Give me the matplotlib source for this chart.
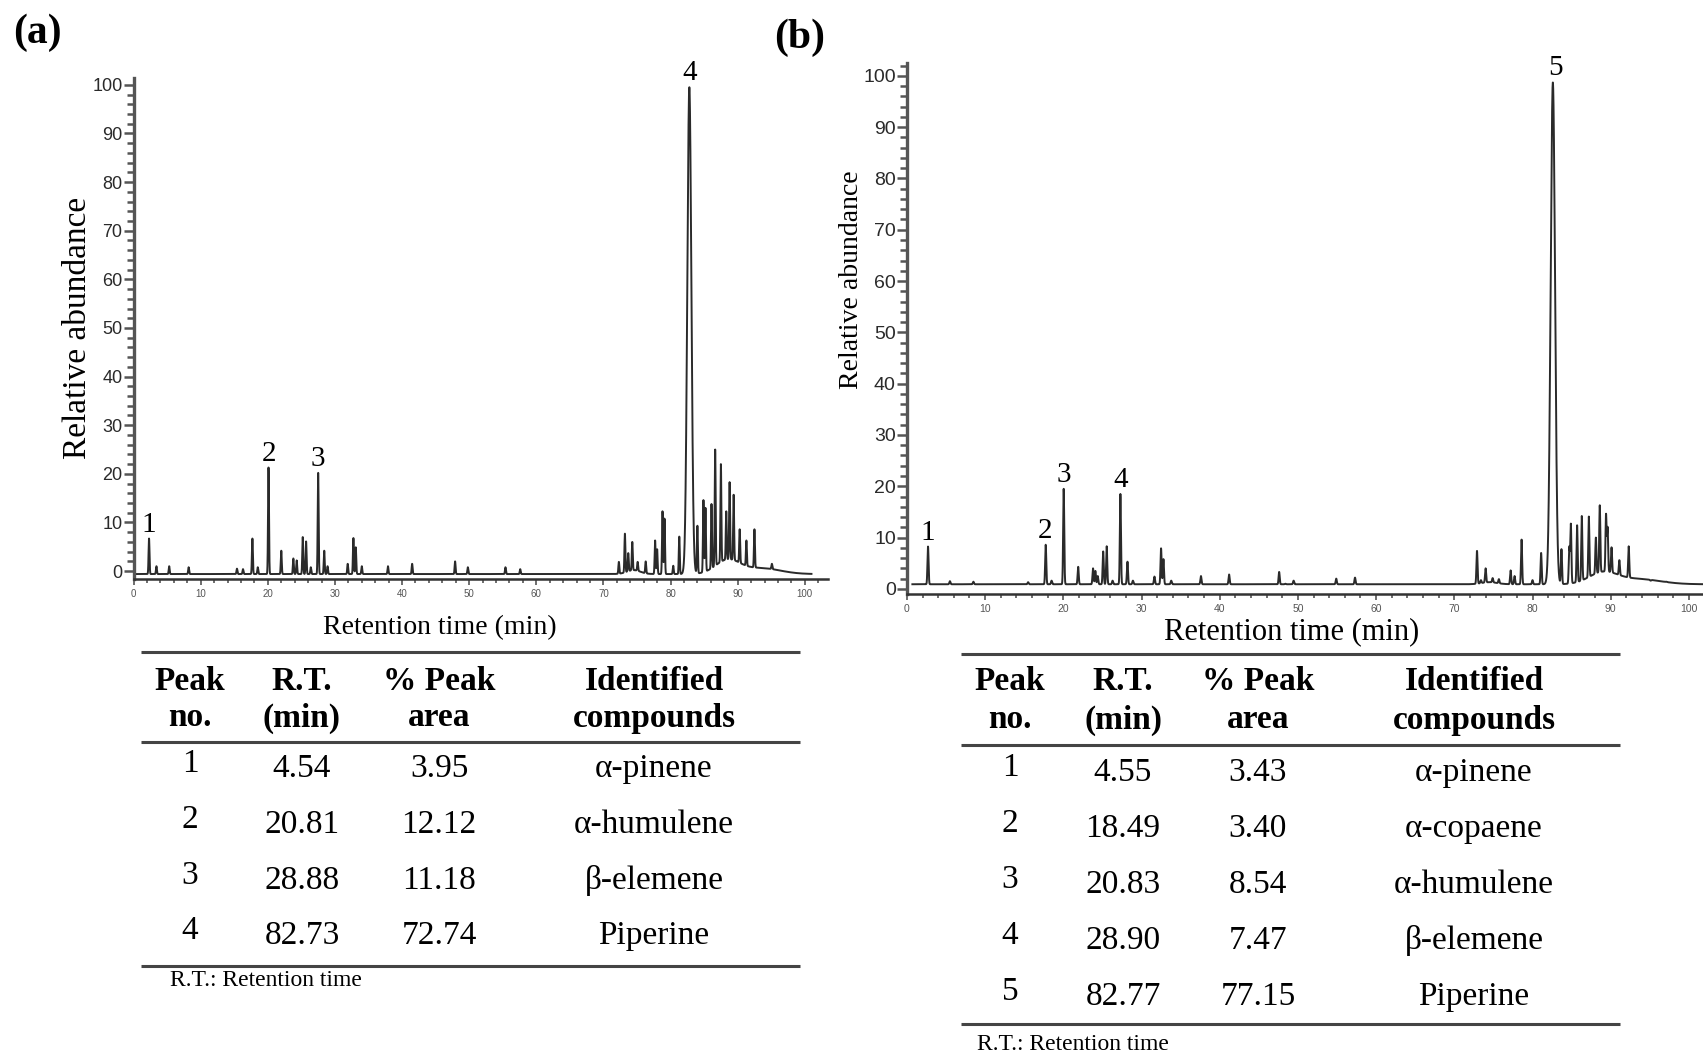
"""GC-MS chromatograms (a) and (b) with peak tables underneath."""

import numpy as np
import matplotlib

matplotlib.use("Agg")
import matplotlib.pyplot as plt  # noqa: E402
from matplotlib.ticker import MultipleLocator  # noqa: E402

W, H = 1703, 1056
SERIF = "Liberation Serif"
SANS = "Liberation Sans"
LINE_COLOR = "#2a2a2a"
AXIS_COLOR = "#555555"
TICK_COLOR = "#555555"

# ---- panel (a) peaks: retention time (min), relative abundance (%) ----
A_RT = [2.3, 3.4, 5.3, 8.2, 15.4, 16.3, 17.7, 18.5, 20.1, 22.0,
        23.8, 24.3, 25.2, 25.7, 26.4, 27.5, 28.4, 28.9, 31.9, 32.75,
        33.1, 34.0, 37.9, 41.5, 47.9, 49.8, 55.4, 57.6,
        72.3, 73.2, 73.7, 74.3, 75.1, 76.3, 77.7, 78.0, 78.8, 79.1,
        80.4, 81.3, 82.8, 84.0, 84.9, 85.2, 86.1, 86.65, 87.5, 88.3,
        88.8, 89.4, 90.3, 91.3, 92.5, 95.1]
A_HEIGHT = [6.7, 1.0, 1.0, 0.8, 0.5, 0.4, 6.7, 0.8, 21.3, 4.2,
            2.6, 2.2, 7.0, 6.1, 0.8, 20.2, 4.2, 1.0, 1.5, 6.8,
            4.9, 1.0, 1.0, 1.5, 2.0, 0.8, 0.8, 0.4,
            1.9, 7.7, 3.7, 6.0, 1.9, 2.0, 6.3, 4.5, 12.3, 10.8,
            1.1, 7.1, 99.5, 9.3, 14.6, 13.0, 13.8, 25.0, 22.0, 12.3,
            18.3, 15.7, 8.6, 6.3, 8.6, 1.5]
A_BASE = -0.6
A_RANGE = (0.3, 101.0)
A_HUMP_RT = [74.5, 88.5, 93.5]
A_HUMP_H = [0.8, 2.8, 1.2]
A_HUMP_W = [1.0, 1.8, 2.8]
A_LABELS = ["1", "2", "3", "4"]
A_LABEL_RT = [2.3, 20.1, 27.4, 82.8]
A_LABEL_Y = [6.7, 21.3, 20.2, 99.5]

# ---- panel (b) peaks ----
B_RT = [2.7, 5.5, 8.5, 15.5, 17.75, 18.5, 20.05, 21.9, 23.8, 24.1,
        24.4, 25.1, 25.55, 26.3, 27.3, 28.2, 28.9, 31.65, 32.5, 32.8,
        33.8, 37.6, 41.2, 47.6, 48.4, 49.45, 54.9, 57.3,
        72.9, 73.4, 74.0, 74.9, 75.7, 77.2, 77.7, 78.6, 80.0, 81.1,
        82.6, 83.7, 84.7, 84.9, 85.7, 86.3, 87.2, 88.1, 88.6, 89.4,
        89.6, 90.1, 91.1, 92.3, 95.1, 97.1]
B_HEIGHT = [8.25, 1.5, 1.4, 1.3, 8.6, 1.6, 19.5, 4.3, 4.0, 3.5,
            2.5, 7.3, 8.3, 1.6, 18.5, 5.3, 1.6, 2.4, 7.9, 5.8,
            1.6, 2.5, 2.8, 3.3, 1.0, 1.6, 2.0, 2.2,
            7.4, 1.7, 4.0, 2.1, 1.9, 3.6, 2.5, 9.6, 1.7, 7.0,
            98.7, 7.7, 8.1, 12.6, 12.4, 14.2, 14.1, 10.0, 16.3, 14.5,
            11.9, 8.1, 5.6, 8.3, 1.6, 1.4]
B_BASE = 0.9
B_RANGE = (0.7, 101.8)
B_HUMP_RT = [74.5, 89.0, 93.5]
B_HUMP_H = [0.4, 2.2, 1.0]
B_HUMP_W = [1.0, 1.8, 2.8]
B_LABELS = ["1", "2", "3", "4", "5"]
B_LABEL_RT = [2.7, 17.7, 20.1, 27.4, 82.9]
B_LABEL_Y = [8.25, 8.6, 19.5, 18.5, 98.7]

# ---- tables ----
HEADERS = [("Peak", "no."), ("R.T.", "(min)"), ("% Peak", "area"),
           ("Identified", "compounds")]
TAB_A_NO = [1, 2, 3, 4]
TAB_A_RT = [4.54, 20.81, 28.88, 82.73]
TAB_A_AREA = [3.95, 12.12, 11.18, 72.74]
TAB_A_COMP = ["α-pinene", "α-humulene", "β-elemene", "Piperine"]
TAB_B_NO = [1, 2, 3, 4, 5]
TAB_B_RT = [4.55, 18.49, 20.83, 28.90, 82.77]
TAB_B_AREA = [3.43, 3.40, 8.54, 7.47, 77.15]
TAB_B_COMP = ["α-pinene", "α-copaene", "α-humulene", "β-elemene", "Piperine"]
FOOTNOTE = "R.T.: Retention time"

PEAK_SIGMA = 0.07
TABLE_FS = 24


def rect(left, top, right, bottom):
    return [left / W, 1 - bottom / H, (right - left) / W, (bottom - top) / H]


def trace(rts, heights, base, span, hump_rt, hump_h, hump_w, main_sigma):
    t = np.arange(span[0], span[1], 0.005)
    env = np.full_like(t, base)
    for r, h, w in zip(hump_rt, hump_h, hump_w):
        env += h * np.exp(-0.5 * ((t - r) / w) ** 2)
    y = env.copy()
    for r, h in zip(rts, heights):
        s = main_sigma if h > 50 else PEAK_SIGMA
        y += (h - np.interp(r, t, env)) * np.exp(-0.5 * ((t - r) / s) ** 2)
    return t, y


def chrom_axes(box, xlim, ylim, ytick_size, xtick_size):
    ax = fig.add_axes(box)
    ax.set_xlim(*xlim)
    ax.set_ylim(*ylim)
    for s in ("top", "right"):
        ax.spines[s].set_visible(False)
    ax.spines["left"].set_linewidth(2.4)
    ax.spines["left"].set_color(AXIS_COLOR)
    ax.spines["bottom"].set_linewidth(1.8)
    ax.spines["bottom"].set_color("#333333")
    ax.xaxis.set_major_locator(MultipleLocator(10))
    ax.xaxis.set_minor_locator(MultipleLocator(2))
    ax.yaxis.set_major_locator(MultipleLocator(10))
    ax.yaxis.set_minor_locator(MultipleLocator(2))
    ax.set_xticks(np.arange(0, 101, 10))
    ax.set_yticks(np.arange(0, 101, 10))
    ax.tick_params(axis="y", which="major", length=7, width=1.8,
                   color=TICK_COLOR, pad=1, labelsize=ytick_size,
                   labelcolor="#2a2a2a")
    ax.tick_params(axis="y", which="minor", length=5, width=1.8,
                   color=TICK_COLOR)
    ax.tick_params(axis="x", which="major", length=4, width=1.2,
                   color=TICK_COLOR, pad=3, labelsize=xtick_size,
                   labelcolor="#555555")
    ax.tick_params(axis="x", which="minor", length=3, width=1.2,
                   color=TICK_COLOR)
    for lab in ax.get_xticklabels() + ax.get_yticklabels():
        lab.set_family(SANS)
    return ax


fig = plt.figure(figsize=(W / 100, H / 100), dpi=100)

# ---- panel (a) ----
ax_a = chrom_axes(rect(133.6, 78, 827.6, 578.9), (0, 103.4), (-1.6, 101.4), 13, 7)
t, y = trace(A_RT, A_HEIGHT, A_BASE, A_RANGE, A_HUMP_RT, A_HUMP_H, A_HUMP_W, 0.3)
ax_a.plot(t, y, color=LINE_COLOR, lw=1.4)
for lab, r, h in zip(A_LABELS, A_LABEL_RT, A_LABEL_Y):
    ax_a.text(r, h + 0.2, lab, ha="center", va="bottom", fontsize=21,
              family=SERIF, clip_on=False)

# ---- panel (b) ----
ax_b = chrom_axes(rect(906.9, 63, 1703, 594), (0, 101.8), (-1.0, 102.5), 14, 7.5)
t, y = trace(B_RT, B_HEIGHT, B_BASE, B_RANGE, B_HUMP_RT, B_HUMP_H, B_HUMP_W, 0.28)
ax_b.plot(t, y, color=LINE_COLOR, lw=1.4)
for lab, r, h in zip(B_LABELS, B_LABEL_RT, B_LABEL_Y):
    ax_b.text(r, h + 0.2, lab, ha="center", va="bottom", fontsize=21,
              family=SERIF, clip_on=False)

# ---- overlay in pixel coordinates for labels and tables ----
lay = fig.add_axes([0, 0, 1, 1], zorder=-1)
lay.set_xlim(0, W)
lay.set_ylim(H, 0)
lay.axis("off")

lay.text(13, 33, "(a)", fontsize=30, fontweight="bold", family=SERIF,
         ha="left", va="center")
lay.text(774, 38, "(b)", fontsize=30, fontweight="bold", family=SERIF,
         ha="left", va="center")

lay.text(440, 628, "Retention time (min)", fontsize=20, family=SERIF,
         ha="center", va="center")
lay.text(78, 328, "Relative abundance", fontsize=24, family=SERIF,
         ha="center", va="center", rotation=90)
lay.text(1292, 632, "Retention time (min)", fontsize=22, family=SERIF,
         ha="center", va="center")
lay.text(852, 280, "Relative abundance", fontsize=20, family=SERIF,
         ha="center", va="center", rotation=90)


def draw_table(x0, x1, col_x, rules, head_y, row_y0, row_dy, cols, foot):
    for ry in rules:
        lay.plot([x0, x1], [ry, ry], color="#444444", lw=2.2,
                 solid_capstyle="butt")
    for cx, (h1, h2) in zip(col_x, HEADERS):
        lay.text(cx, head_y[0], h1, ha="center", va="center",
                 fontsize=TABLE_FS, fontweight="bold", family=SERIF)
        lay.text(cx, head_y[1], h2, ha="center", va="center",
                 fontsize=TABLE_FS, fontweight="bold", family=SERIF)
    no, rt, area, comp = cols
    for i in range(len(no)):
        ry = row_y0 + i * row_dy
        lay.text(col_x[0], ry - 5, str(no[i]), ha="center", va="center",
                 fontsize=TABLE_FS, family=SERIF)
        lay.text(col_x[1], ry, f"{rt[i]:.2f}", ha="center", va="center",
                 fontsize=TABLE_FS, family=SERIF)
        lay.text(col_x[2], ry, f"{area[i]:.2f}", ha="center", va="center",
                 fontsize=TABLE_FS, family=SERIF)
        lay.text(col_x[3], ry, comp[i], ha="center", va="center",
                 fontsize=TABLE_FS, family=SERIF)
    lay.text(foot[0], foot[1], FOOTNOTE, ha="left", va="center",
             fontsize=17, family=SERIF)


draw_table(141, 800, [190, 302, 439, 654], [652, 742, 966], (681, 718),
           769, 55.7, (TAB_A_NO, TAB_A_RT, TAB_A_AREA, TAB_A_COMP), (170, 980))
draw_table(961, 1620, [1010, 1123, 1258, 1474], [654, 745, 1024], (682, 720),
           773, 56.0, (TAB_B_NO, TAB_B_RT, TAB_B_AREA, TAB_B_COMP), (977, 1044))

fig.savefig("out.png", dpi=100, facecolor="white")
